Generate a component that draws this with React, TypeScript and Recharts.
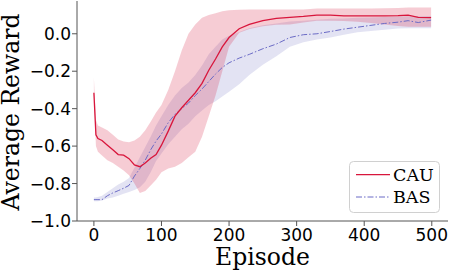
import React from 'react';
import {
  ComposedChart,
  Area,
  Line,
  XAxis,
  YAxis,
  Legend,
  ReferenceArea,
} from 'recharts';

const episodes = [
  0, 3, 6, 12, 20, 28, 36, 44, 52, 60, 68, 76, 84, 92, 100, 110, 120, 130, 140, 150, 160, 170, 180,
  190, 200, 215, 230, 250, 270, 290, 310, 330, 350, 370, 390, 410, 430, 450, 465, 480, 499,
];

const cauMean = [
  -0.315, -0.54, -0.56, -0.57, -0.595, -0.62, -0.645, -0.648, -0.667, -0.7, -0.71, -0.69, -0.665,
  -0.645, -0.595, -0.52, -0.44, -0.395, -0.355, -0.315, -0.265, -0.195, -0.135, -0.07, -0.02, 0.027,
  0.05, 0.07, 0.082, 0.088, 0.093, 0.1, 0.1, 0.096, 0.096, 0.096, 0.096, 0.097, 0.1, 0.088, 0.086,
];
const cauUpper = [
  -0.235, -0.46, -0.49, -0.5, -0.515, -0.54, -0.565, -0.575, -0.58, -0.57, -0.55, -0.515, -0.47,
  -0.42, -0.38, -0.3, -0.2, -0.09, 0.0, 0.05, 0.085, 0.1, 0.11, 0.12, 0.125, 0.128, 0.13, 0.13, 0.13,
  0.13, 0.13, 0.135, 0.135, 0.135, 0.135, 0.135, 0.136, 0.138, 0.14, 0.14, 0.14,
];
const cauLower = [
  -0.33, -0.6, -0.63, -0.65, -0.675, -0.69, -0.71, -0.73, -0.755, -0.8, -0.85, -0.84, -0.81, -0.78,
  -0.74, -0.72, -0.71, -0.69, -0.66, -0.63, -0.55, -0.44, -0.33, -0.2, -0.07, 0.005, 0.025, 0.04,
  0.048, 0.05, 0.06, 0.07, 0.07, 0.068, 0.064, 0.058, 0.05, 0.042, 0.037, 0.037, 0.037,
];

const basMean = [
  -0.886, -0.886, -0.886, -0.886, -0.865, -0.85, -0.838, -0.825, -0.81, -0.76, -0.72, -0.675, -0.62,
  -0.573, -0.535, -0.475, -0.43, -0.4, -0.37, -0.33, -0.295, -0.255, -0.215, -0.18, -0.155, -0.13,
  -0.11, -0.08, -0.055, -0.02, -0.005, 0.0, 0.012, 0.025, 0.035, 0.045, 0.055, 0.062, 0.07, 0.06,
  0.073,
];
const basUpper = [
  -0.875, -0.875, -0.872, -0.865, -0.845, -0.825, -0.805, -0.79, -0.77, -0.715, -0.66, -0.605, -0.55,
  -0.49, -0.44, -0.38, -0.33, -0.29, -0.26, -0.22, -0.17, -0.11, -0.07, -0.03, -0.01, 0.01, 0.03,
  0.045, 0.055, 0.065, 0.07, 0.075, 0.08, 0.082, 0.085, 0.087, 0.09, 0.092, 0.094, 0.094, 0.095,
];
const basLower = [
  -0.895, -0.895, -0.895, -0.89, -0.88, -0.875, -0.865, -0.855, -0.845, -0.835, -0.82, -0.79, -0.74,
  -0.68, -0.64, -0.59, -0.55, -0.51, -0.48, -0.44, -0.41, -0.38, -0.36, -0.335, -0.31, -0.27, -0.22,
  -0.165, -0.12, -0.07, -0.045, -0.03, -0.02, -0.005, 0.008, 0.015, 0.022, 0.028, 0.03, 0.03, 0.03,
];

const xTicks = [0, 100, 200, 300, 400, 500];
const yTicks = [-1.0, -0.8, -0.6, -0.4, -0.2, 0.0];

const RED = '#d8163c';
const BLUE = '#6b6bc6';

const rows = episodes.map((e, i) => ({
  episode: e,
  cau: cauMean[i],
  cauBand: [cauLower[i], cauUpper[i]],
  bas: basMean[i],
  basBand: [basLower[i], basUpper[i]],
}));

const fmtY = (v: number) => v.toFixed(1).replace('-', '\u2212');

const tickStyle = { fontFamily: 'DejaVu Sans', fontSize: 17, fill: '#000' };
const labelFont = 'DejaVu Serif';

function LegendBox() {
  return (
    <svg width={91} height={52} style={{ display: 'block' }}>
      <rect x={0.5} y={0.5} width={90} height={51} rx={4} fill="rgba(255,255,255,0.8)" stroke="#d0d0d0" />
      <line x1={7} x2={41} y1={13.6} y2={13.6} stroke={RED} strokeWidth={1.3} />
      <text x={44} y={20.3} fontFamily={labelFont} fontSize={17.5} fill="#000">CAU</text>
      <line x1={7} x2={41} y1={36} y2={36} stroke={BLUE} strokeWidth={1} strokeDasharray="6 2 1.5 2" />
      <text x={44} y={42} fontFamily={labelFont} fontSize={17.5} fill="#000">BAS</text>
    </svg>
  );
}

export default function App() {
  return (
    <div style={{ position: 'absolute', left: 0, top: 0, width: 451, height: 271, background: '#fff' }}>
      <ComposedChart width={451} height={271} data={rows} margin={{ top: 1, right: 3, left: 0, bottom: 0 }}>
        <XAxis
          dataKey="episode"
          type="number"
          domain={[-25, 524]}
          ticks={xTicks}
          allowDataOverflow
          height={50}
          tick={tickStyle}
          tickSize={5}
          tickMargin={3}
          stroke="#555"
          label={{
            content: (p: any) => {
              const vb = p.viewBox;
              return (
                <text x={vb.x + vb.width / 2} y={265} textAnchor="middle" fontFamily={labelFont} fontSize={23.5} fill="#000">
                  Episode
                </text>
              );
            },
          }}
        />
        <YAxis
          type="number"
          domain={[-1.0, 0.175]}
          ticks={yTicks}
          allowDataOverflow
          width={77}
          tick={tickStyle}
          tickFormatter={fmtY}
          tickSize={5}
          tickMargin={1}
          stroke="#555"
          label={{
            content: (p: any) => {
              const vb = p.viewBox;
              const cy = vb.y + vb.height / 2 + 1;
              return (
                <text
                  x={19}
                  y={cy}
                  transform={`rotate(-90, 19, ${cy})`}
                  textAnchor="middle"
                  fontFamily={labelFont}
                  fontSize={23.5}
                  fill="#000"
                >
                  Average Reward
                </text>
              );
            },
          }}
        />
        <ReferenceArea fill="none" stroke="#555" strokeWidth={1} />
        <Area
          dataKey="basBand"
          type="linear"
          stroke="none"
          fill="#1a1a9c"
          fillOpacity={0.12}
          isAnimationActive={false}
          activeDot={false}
        />
        <Area
          dataKey="cauBand"
          type="linear"
          stroke="none"
          fill={RED}
          fillOpacity={0.22}
          isAnimationActive={false}
          activeDot={false}
        />
        <Line
          dataKey="bas"
          type="linear"
          stroke={BLUE}
          strokeWidth={1}
          strokeDasharray="6 2 1.5 2"
          dot={false}
          activeDot={false}
          isAnimationActive={false}
        />
        <Line
          dataKey="cau"
          type="linear"
          stroke={RED}
          strokeWidth={1.3}
          dot={false}
          activeDot={false}
          isAnimationActive={false}
        />
        <Legend
          layout="vertical"
          align="center"
          verticalAlign="middle"
          content={() => <LegendBox />}
          wrapperStyle={{ position: 'absolute', left: 349, top: 161, width: 91, height: 52 }}
        />
      </ComposedChart>
    </div>
  );
}
